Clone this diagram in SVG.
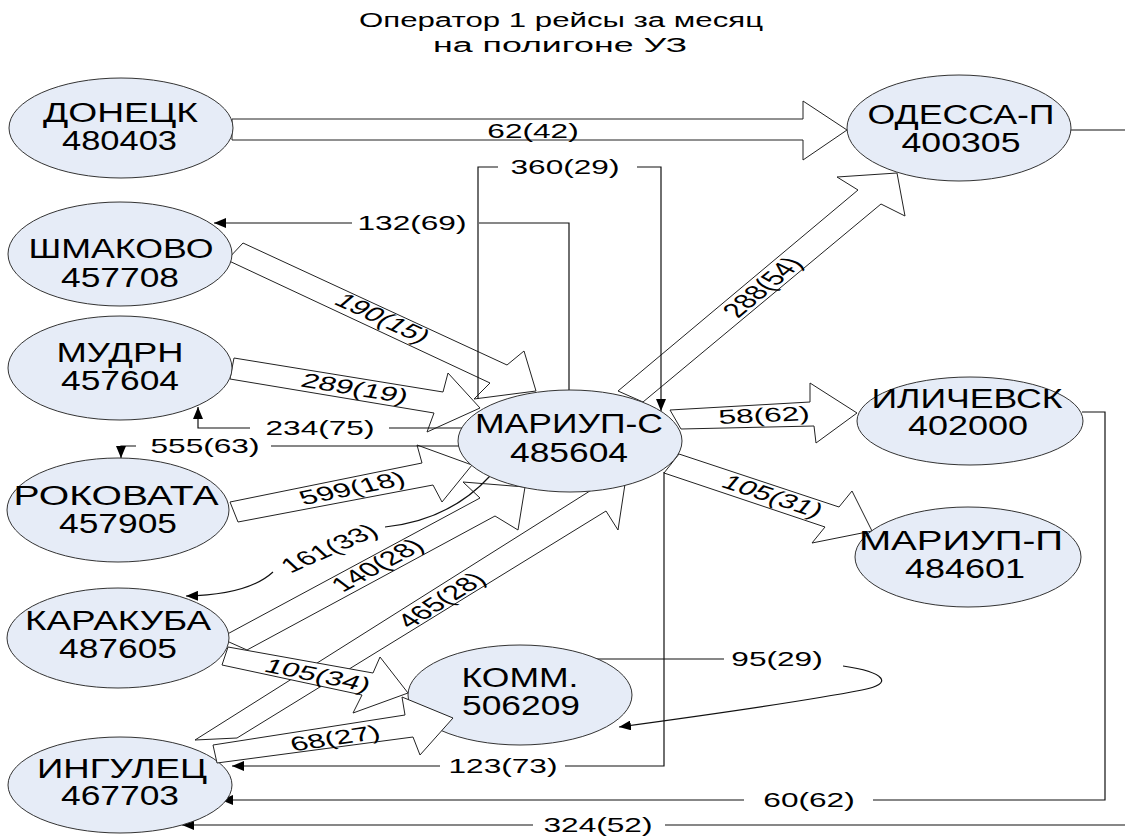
<svg xmlns="http://www.w3.org/2000/svg" width="1125" height="837" viewBox="0 0 1125 837">
<style>
.bg{fill:#ffffff}
.node{fill:#E6ECF7;stroke:#333;stroke-width:1}
.blk{fill:#ffffff;stroke:#222;stroke-width:1;stroke-linejoin:miter}
.ln{fill:none;stroke:#111;stroke-width:1.2}
.nt{font-family:"Liberation Sans",Arial,sans-serif;font-size:27px;text-anchor:middle;fill:#000}
.lb{font-family:"Liberation Sans",Arial,sans-serif;font-size:20px;text-anchor:middle;fill:#000}
.tt{font-family:"Liberation Sans",Arial,sans-serif;font-size:20px;text-anchor:middle;fill:#000}
</style>
<defs>
<marker id="ah" viewBox="0 0 12 10" refX="12" refY="5" markerWidth="12" markerHeight="10" markerUnits="userSpaceOnUse" orient="auto">
<path d="M0,0 L12,5 L0,10 z" fill="#000"/>
</marker>
</defs>
<rect class="bg" x="0" y="0" width="1125" height="837"/>
<g id="title">
<text class="tt" x="561" y="27" textLength="404" lengthAdjust="spacingAndGlyphs">Оператор 1 рейсы за месяц</text>
<text class="tt" x="560" y="52" textLength="254" lengthAdjust="spacingAndGlyphs">на полигоне УЗ</text>
</g>
<g id="connectors">
<g id="block-arrows">
<polygon class="blk" points="232,119 803,119 803,101 847,130 803,160 803,140 232,140"/>
<polygon class="blk" points="618,391 858,190 837,177 897,173 905,216 881,204 643,402"/>
<polygon class="blk" points="243,243 507,365 524,351 536,391 474,399 490,383 227,260"/>
<polygon class="blk" points="234,358 443,392 448,373 480,408 427,432 434,413 230,379"/>
<polygon class="blk" points="230,502 422,463 417,445 472,465 442,502 433,485 238,522"/>
<polygon class="blk" points="195,740 593,489 581,470 625,484 618,530 606,511 237,738"/>
<polygon class="blk" points="220,638 480,498 463,482 525,487 518,530 495,516 247,650"/>
<polygon class="blk" points="228,647 373,673 380,657 408,693 353,713 362,695 222,665"/>
<polygon class="blk" points="670,410 810,402 810,383 857,413 816,443 814,426 681,429"/>
<polygon class="blk" points="679,454 839,507 852,491 872,531 812,543 825,527 664,473"/>
</g>
<g id="thin-lines">
<path class="ln" d="M569,390 V223 H479"/>
<path class="ln" d="M352,223 H214" marker-end="url(#ah)"/>
<path class="ln" d="M478,399 V167 H498"/>
<path class="ln" d="M637,167 H661 V411" marker-end="url(#ah)"/>
<path class="ln" d="M462,428 H389"/>
<path class="ln" d="M250,428 H198 V407" marker-end="url(#ah)"/>
<path class="ln" d="M460,446 H271"/>
<path class="ln" d="M136,446 H121 V458" marker-end="url(#ah)"/>
<path class="ln" d="M490,476 Q450,520 385,527"/>
<path class="ln" d="M273,572 Q248,595 186,596" marker-end="url(#ah)"/>
<path class="ln" d="M585,659 H724"/>
<path class="ln" d="M843,666 C885,672 895,684 862,690 C800,702 700,716 619,727" marker-end="url(#ah)"/>
<path class="ln" d="M664,472 V766 H565"/>
<path class="ln" d="M440,766 H232" marker-end="url(#ah)"/>
<path class="ln" d="M1082,412 H1105 V800 H873"/>
<path class="ln" d="M744,800 H221" marker-end="url(#ah)"/>
<path class="ln" d="M1071,130 H1125"/>
<path class="ln" d="M1125,825 H665"/>
<path class="ln" d="M533,825 H182" marker-end="url(#ah)"/>
</g>
</g>
<g id="n-donetsk"><ellipse class="node" cx="121" cy="128" rx="112" ry="50"/><text class="nt" x="120.5" y="122" textLength="155" lengthAdjust="spacingAndGlyphs">ДОНЕЦК</text><text class="nt" x="119.5" y="150" textLength="115" lengthAdjust="spacingAndGlyphs">480403</text></g>
<g id="n-odessa"><ellipse class="node" cx="959" cy="128" rx="112" ry="53"/><text class="nt" x="961" y="124" textLength="187" lengthAdjust="spacingAndGlyphs">ОДЕССА-П</text><text class="nt" x="961" y="152" textLength="119" lengthAdjust="spacingAndGlyphs">400305</text></g>
<g id="n-shmakovo"><ellipse class="node" cx="120" cy="254" rx="112" ry="52"/><text class="nt" x="121" y="258" textLength="185" lengthAdjust="spacingAndGlyphs">ШМАКОВО</text><text class="nt" x="120" y="287" textLength="118" lengthAdjust="spacingAndGlyphs">457708</text></g>
<g id="n-mudrn"><ellipse class="node" cx="120" cy="368" rx="112" ry="52"/><text class="nt" x="120" y="362" textLength="127" lengthAdjust="spacingAndGlyphs">МУДРН</text><text class="nt" x="120" y="390" textLength="118" lengthAdjust="spacingAndGlyphs">457604</text></g>
<g id="n-rokovata"><ellipse class="node" cx="118" cy="510" rx="111" ry="52"/><text class="nt" x="116" y="505" textLength="205" lengthAdjust="spacingAndGlyphs">РОКОВАТА</text><text class="nt" x="118" y="533" textLength="118" lengthAdjust="spacingAndGlyphs">457905</text></g>
<g id="n-karakuba"><ellipse class="node" cx="118" cy="638" rx="111" ry="50"/><text class="nt" x="118" y="630" textLength="186" lengthAdjust="spacingAndGlyphs">КАРАКУБА</text><text class="nt" x="118" y="658" textLength="118" lengthAdjust="spacingAndGlyphs">487605</text></g>
<g id="n-ingulets"><ellipse class="node" cx="120" cy="785" rx="112" ry="48"/><text class="nt" x="122" y="778" textLength="170" lengthAdjust="spacingAndGlyphs">ИНГУЛЕЦ</text><text class="nt" x="120" y="805" textLength="118" lengthAdjust="spacingAndGlyphs">467703</text></g>
<g id="n-mariup-s"><ellipse class="node" cx="570" cy="441" rx="112" ry="51"/><text class="nt" x="569" y="433" textLength="188" lengthAdjust="spacingAndGlyphs">МАРИУП-С</text><text class="nt" x="569" y="462" textLength="118" lengthAdjust="spacingAndGlyphs">485604</text></g>
<g id="n-ilichevsk"><ellipse class="node" cx="970" cy="421" rx="113" ry="44"/><text class="nt" x="967" y="408" textLength="191" lengthAdjust="spacingAndGlyphs">ИЛИЧЕВСК</text><text class="nt" x="968" y="435" textLength="120" lengthAdjust="spacingAndGlyphs">402000</text></g>
<g id="n-mariup-p"><ellipse class="node" cx="968" cy="557" rx="113" ry="50"/><text class="nt" x="961" y="550" textLength="204" lengthAdjust="spacingAndGlyphs">МАРИУП-П</text><text class="nt" x="965" y="578" textLength="120" lengthAdjust="spacingAndGlyphs">484601</text></g>
<g id="n-komm"><ellipse class="node" cx="520" cy="695" rx="112" ry="50"/><text class="nt" x="520" y="687" textLength="117" lengthAdjust="spacingAndGlyphs">КОММ.</text><text class="nt" x="521" y="715" textLength="118" lengthAdjust="spacingAndGlyphs">506209</text></g>
<g id="arrow-68"><polygon class="blk" points="213,745 405,715 402,697 453,718 420,755 413,737 217,763"/></g>
<g id="labels">
<text class="lb" transform="translate(533,138) scale(1.58,1)">62(42)</text>
<text class="lb" transform="translate(565,174) scale(1.58,1)">360(29)</text>
<text class="lb" transform="translate(412,230) scale(1.58,1)">132(69)</text>
<text class="lb" transform="translate(320,435) scale(1.58,1)">234(75)</text>
<text class="lb" transform="translate(205,453) scale(1.58,1)">555(63)</text>
<text class="lb" transform="translate(777,666) scale(1.58,1)">95(29)</text>
<text class="lb" transform="translate(503,773) scale(1.58,1)">123(73)</text>
<text class="lb" transform="translate(809,807) scale(1.58,1)">60(62)</text>
<text class="lb" transform="translate(598,832) scale(1.58,1)">324(52)</text>
<text class="lb" transform="translate(383,318) scale(1.58,1) rotate(36.4)" y="7">190(15)</text>
<text class="lb" transform="translate(355,388) scale(1.58,1) rotate(14.4)" y="7">289(19)</text>
<text class="lb" transform="translate(352,488) scale(1.58,1) rotate(-17.8)" y="7">599(18)</text>
<text class="lb" transform="translate(377,565) scale(1.58,1) rotate(-40.4)" y="7">140(28)</text>
<text class="lb" transform="translate(441,600) scale(1.58,1) rotate(-44.6)" y="7">465(28)</text>
<text class="lb" transform="translate(329,548) scale(1.58,1) rotate(-34.8)" y="7">161(33)</text>
<text class="lb" transform="translate(318,675) scale(1.58,1) rotate(17.7)" y="7">105(34)</text>
<text class="lb" transform="translate(335,738) scale(1.58,1) rotate(-13.4)" y="7">68(27)</text>
<text class="lb" transform="translate(762,287) scale(1.58,1) rotate(-52.8)" y="7">288(54)</text>
<text class="lb" transform="translate(764,415) scale(1.58,1) rotate(-3.9)" y="7">58(62)</text>
<text class="lb" transform="translate(773,496) scale(1.58,1) rotate(27.6)" y="7">105(31)</text>
</g>
</svg>
